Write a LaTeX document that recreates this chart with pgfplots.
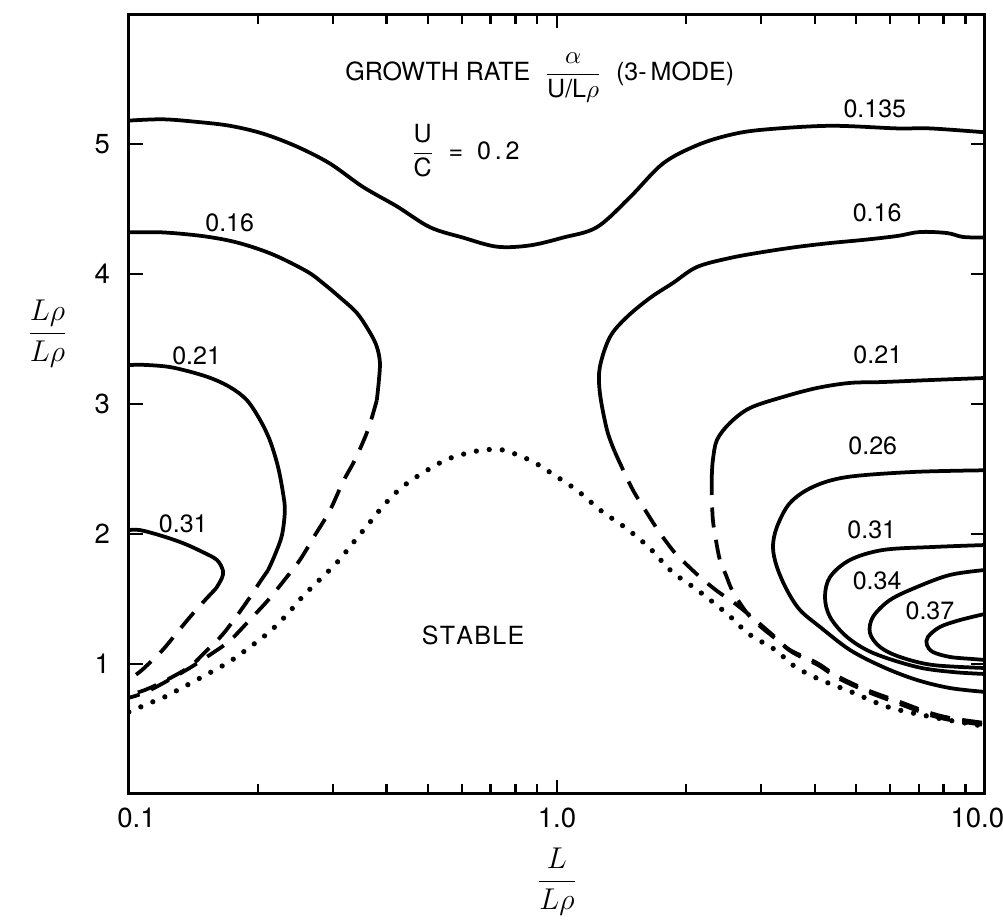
\documentclass[border=0pt]{standalone}
\usepackage{fontspec}
\setmainfont{TeX Gyre Heros}
\usepackage{pgfplots}
\pgfplotsset{compat=1.18}
\usetikzlibrary{calc}

\begin{document}
\begin{tikzpicture}[
  contour/.style={line width=1.5pt, smooth, tension=0.55, black},
  ext/.style={line width=1.5pt, smooth, tension=0.55, black, dash pattern=on 8pt off 5pt},
  bound/.style={line width=2.1pt, smooth, tension=0.55, black, dash pattern=on 0pt off 5.2pt, line cap=round},
  lab/.style={font=\fontsize{10}{12}\selectfont, inner sep=1pt}
]
\begin{axis}[
  scale only axis, width=342pt, height=311.6pt,
  xmode=log, xmin=0.1, xmax=10, ymin=0, ymax=6,
  axis line style={line width=1.2pt},
  xtick={0.1,1,10},
  xticklabels={\hphantom{0}0.1,1.0,10.0\hphantom{0}},
  minor xtick={0.2,0.3,0.4,0.5,0.6,0.7,0.8,0.9,2,3,4,5,6,7,8,9},
  ytick={1,2,3,4,5}, yticklabels={1,2,3,4,5},
  xtick pos=both, ytick pos=both,
  tick align=inside,
  major tick length=5.5pt, minor tick length=4pt,
  tick style={line width=0.9pt, black},
  ticklabel style={font=\fontsize{11}{13}\selectfont},
  yticklabel style={xshift=-4pt},
  xticklabel style={yshift=-2pt},
  xlabel={$\displaystyle\frac{L}{L\rho}$},
  xlabel style={at={(axis description cs:0.5,-0.112)}, anchor=center, font=\fontsize{12}{14}\selectfont},
  ylabel={$\displaystyle\frac{L\rho}{L\rho}$},
  ylabel style={rotate=-90, at={(axis description cs:-0.095,0.59)}, anchor=center, font=\fontsize{12}{14}\selectfont},
]

% growth-rate contour 0.135
\addplot[contour] coordinates {(0.1,5.18) (0.12,5.19) (0.1442,5.17) (0.1722,5.14) (0.2056,5.08) (0.2469,4.98) (0.2948,4.85) (0.3522,4.67) (0.4229,4.52) (0.505,4.36) (0.6032,4.28) (0.7243,4.21) (0.8649,4.22) (1.033,4.28) (1.24,4.36) (1.481,4.59) (1.769,4.85) (2.124,4.99) (2.536,5.07) (3.029,5.11) (4.345,5.14) (6.228,5.12) (7.438,5.12) (10,5.09)};

% contour 0.16, left branch
\addplot[contour] coordinates {(0.1,4.32) (0.12,4.32) (0.15,4.29) (0.18,4.24) (0.217,4.15) (0.2605,4.02) (0.284,3.93) (0.3112,3.82) (0.3409,3.70) (0.3657,3.55) (0.3796,3.44) (0.3859,3.32) (0.3838,3.18) (0.3796,3.03)};
\addplot[ext] coordinates {(0.3796,3.03) (0.3617,2.80) (0.3373,2.57) (0.3162,2.40) (0.2948,2.18) (0.272,1.99) (0.2509,1.80) (0.2314,1.65) (0.2113,1.49) (0.1917,1.34) (0.1722,1.18) (0.1546,1.07) (0.1388,0.97) (0.1214,0.86) (0.109,0.78) (0.1,0.74)};

% contour 0.21, left branch
\addplot[contour] coordinates {(0.1,3.30) (0.11,3.30) (0.1267,3.28) (0.1521,3.21) (0.1722,3.13) (0.1886,3.03) (0.2023,2.88) (0.2135,2.72) (0.2229,2.52) (0.229,2.32) (0.2314,2.18) (0.2278,1.99) (0.2194,1.84) (0.2113,1.72)};
\addplot[ext] coordinates {(0.2113,1.72) (0.2023,1.63) (0.1897,1.49) (0.1769,1.35) (0.1649,1.22) (0.1505,1.09) (0.1388,0.98) (0.1214,0.87) (0.109,0.80) (0.1,0.76)};

% contour 0.31, left branch
\addplot[contour] coordinates {(0.1,2.03) (0.1061,2.03) (0.1181,1.99) (0.1337,1.93) (0.1489,1.86) (0.1606,1.80) (0.1658,1.72) (0.1649,1.66) (0.1597,1.58)};
\addplot[ext] coordinates {(0.1597,1.58) (0.1505,1.49) (0.1388,1.36) (0.1295,1.24) (0.1201,1.11) (0.1119,1.01) (0.1061,0.94) (0.1,0.88)};

% marginal stability boundary
\addplot[bound] coordinates {(0.1,0.63) (0.1119,0.70) (0.1201,0.74) (0.1337,0.82) (0.1521,0.92) (0.1722,1.02) (0.1917,1.13) (0.2135,1.25) (0.234,1.38) (0.2549,1.52) (0.2794,1.65) (0.3062,1.78) (0.3337,1.93) (0.3657,2.09) (0.3963,2.23) (0.4345,2.36) (0.4915,2.48) (0.5595,2.58) (0.6538,2.64) (0.7085,2.65) (0.7603,2.64) (0.8742,2.56) (0.9893,2.45) (1.12,2.33) (1.267,2.18) (1.457,2.04) (1.649,1.89) (1.857,1.71) (2.147,1.56) (2.509,1.38) (2.81,1.23) (3.231,1.11) (3.598,0.98) (4.117,0.88) (4.916,0.78) (5.595,0.70) (6.228,0.65) (7.852,0.58) (10,0.52)};

% contour 0.16, right branch
\addplot[contour] coordinates {(10,4.28) (8.885,4.285) (8.153,4.315) (7.048,4.323) (6.228,4.292) (5.188,4.262) (4.345,4.238) (3.637,4.208) (3.029,4.169) (2.536,4.123) (2.124,4.054) (1.867,3.931) (1.649,3.815) (1.457,3.669) (1.33,3.515) (1.26,3.285) (1.26,3.085) (1.309,2.80) (1.366,2.631)};
\addplot[ext] coordinates {(1.366,2.631) (1.403,2.546) (1.505,2.338) (1.623,2.162) (1.74,2.008) (1.887,1.854) (2.013,1.762) (2.159,1.669) (2.365,1.562) (2.578,1.477) (2.78,1.392) (2.98,1.308) (3.231,1.208) (3.502,1.108) (4.05,1.008) (4.511,0.908) (5.301,0.80) (6.33,0.708) (7.319,0.631) (8.285,0.585) (10,0.546)};

% contour 0.21, right branch
\addplot[contour] coordinates {(10,3.20) (7.559,3.185) (5.777,3.169) (4.837,3.162) (4.05,3.123) (3.373,3.054) (2.825,2.969) (2.536,2.854) (2.365,2.723) (2.314,2.569) (2.301,2.454)};
\addplot[ext] coordinates {(2.301,2.454) (2.301,2.30) (2.314,2.108) (2.352,1.954) (2.403,1.80) (2.482,1.685) (2.578,1.554) (2.78,1.392) (2.98,1.292) (3.249,1.192) (3.54,1.092) (4.072,0.992) (4.535,0.892) (5.33,0.785) (6.33,0.692) (7.319,0.615) (8.285,0.569) (10,0.531)};

% closed-off contours near the right edge
\addplot[contour] coordinates {(10,2.49) (6.788,2.477) (4.76,2.438) (3.963,2.362) (3.502,2.238) (3.266,2.054) (3.197,1.90) (3.266,1.746) (3.446,1.569) (3.697,1.415) (4.117,1.285) (4.837,1.108) (5.777,0.977) (6.935,0.877) (8.285,0.815) (10,0.785)};
\addplot[contour] coordinates {(10,1.915) (7.559,1.90) (5.777,1.877) (4.837,1.80) (4.345,1.669) (4.229,1.515) (4.345,1.362) (4.76,1.208) (5.474,1.085) (6.935,0.977) (8.42,0.938) (10,0.923)};
\addplot[contour] coordinates {(10,1.723) (8.285,1.685) (6.935,1.592) (5.998,1.492) (5.474,1.362) (5.387,1.238) (5.684,1.131) (6.33,1.054) (7.559,0.992) (10,0.969)};
\addplot[contour] coordinates {(10,1.385) (8.742,1.338) (7.852,1.285) (7.358,1.208) (7.319,1.146) (7.559,1.092) (8.285,1.054) (9.376,1.038) (10,1.031)};

% contour values
\node[lab] at (axis cs:5.53,5.27) {0.135};
\node[lab] at (axis cs:5.6,4.47) {0.16};
\node[lab] at (axis cs:0.172,4.39) {0.16};
\node[lab] at (axis cs:0.144,3.37) {0.21};
\node[lab] at (axis cs:5.62,3.38) {0.21};
\node[lab] at (axis cs:5.47,2.68) {0.26};
\node[lab] at (axis cs:5.44,2.03) {0.31};
\node[lab] at (axis cs:5.6,1.64) {0.34};
\node[lab] at (axis cs:7.44,1.41) {0.37};
\node[lab] at (axis cs:0.134,2.08) {0.31};
\node[lab] at (axis cs:0.637,1.22) {S\kern0.5pt T\kern0.5pt A\kern0.5pt B\kern0.5pt L\kern0.5pt E};

% heading and parameter
\node[anchor=base, font=\fontsize{10}{12}\selectfont] at (axis cs:0.912,5.49)
  {GROWTH RATE \ $\displaystyle\frac{\alpha}{\mbox{U/L}\rho}$ \ (3-\,MODE)};
\node[anchor=base, font=\fontsize{10}{12}\selectfont] at (axis cs:0.61,4.88)
  {$\displaystyle\frac{\mbox{U}}{\mbox{C}}$ \ = \ 0\kern1.5pt.\kern1.5pt2};
\end{axis}
\pgfresetboundingbox
\path ($(current axis.south west)+(-51.5pt,-51.5pt)$) rectangle ($(current axis.north east)+(7.2pt,5.6pt)$);
\end{tikzpicture}
\end{document}
